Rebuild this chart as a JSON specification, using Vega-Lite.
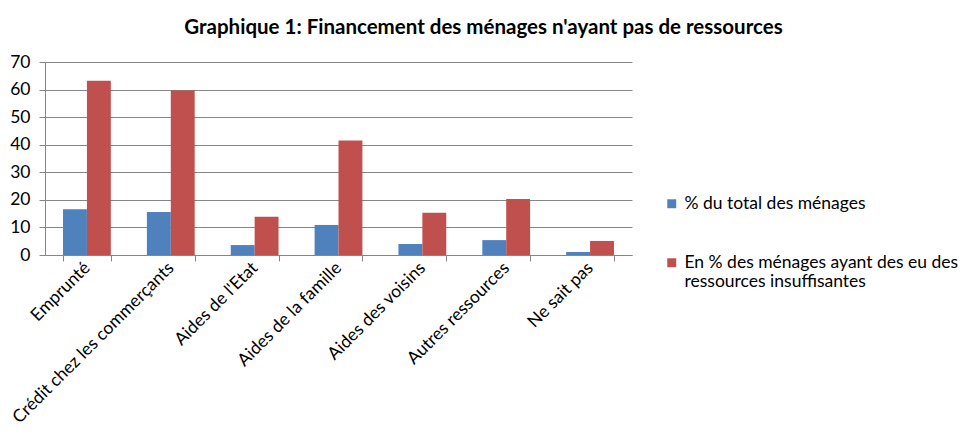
{
  "$schema": "https://vega.github.io/schema/vega-lite/v6.json",
  "autosize": "none",
  "width": 587,
  "height": 193,
  "padding": {"left": 45, "top": 62, "right": 332, "bottom": 191},
  "background": "white",
  "title": {
    "text": "Graphique 1: Financement des ménages n'ayant pas de ressources",
    "font": "Lato",
    "fontSize": 20.5,
    "fontWeight": "bold",
    "color": "#000000",
    "anchor": "middle",
    "dx": 145,
    "offset": 15
  },
  "data": {
    "values": [
      {"cat": "Emprunté", "serie": "% du total des ménages", "v": 16.6},
      {"cat": "Emprunté", "serie": "En % des ménages ayant des eu des ressources insuffisantes", "v": 63.2},
      {"cat": "Crédit chez les commerçants", "serie": "% du total des ménages", "v": 15.6},
      {"cat": "Crédit chez les commerçants", "serie": "En % des ménages ayant des eu des ressources insuffisantes", "v": 59.7},
      {"cat": "Aides de l'Etat", "serie": "% du total des ménages", "v": 3.6},
      {"cat": "Aides de l'Etat", "serie": "En % des ménages ayant des eu des ressources insuffisantes", "v": 13.9},
      {"cat": "Aides de la famille", "serie": "% du total des ménages", "v": 10.9},
      {"cat": "Aides de la famille", "serie": "En % des ménages ayant des eu des ressources insuffisantes", "v": 41.5},
      {"cat": "Aides des voisins", "serie": "% du total des ménages", "v": 4.0},
      {"cat": "Aides des voisins", "serie": "En % des ménages ayant des eu des ressources insuffisantes", "v": 15.3},
      {"cat": "Autres ressources", "serie": "% du total des ménages", "v": 5.4},
      {"cat": "Autres ressources", "serie": "En % des ménages ayant des eu des ressources insuffisantes", "v": 20.3},
      {"cat": "Ne sait pas", "serie": "% du total des ménages", "v": 1.1},
      {"cat": "Ne sait pas", "serie": "En % des ménages ayant des eu des ressources insuffisantes", "v": 5.1}
    ]
  },
  "mark": {"type": "bar"},
  "encoding": {
    "x": {
      "field": "cat",
      "type": "nominal",
      "sort": null,
      "scale": {"paddingInner": 0.43, "paddingOuter": 0.215},
      "axis": {
        "title": null,
        "labelAngle": -45,
        "labelAlign": "right",
        "labelBaseline": "middle",
        "labelFont": "Lato",
        "labelFontSize": 17.5,
        "labelColor": "#000000",
        "labelPadding": 4,
        "labelLimit": 300,
        "tickBand": "extent",
        "tickSize": 6,
        "tickColor": "#868686",
        "domainColor": "#868686"
      }
    },
    "xOffset": {"field": "serie", "type": "nominal", "scale": {"paddingInner": 0, "paddingOuter": 0}},
    "y": {
      "field": "v",
      "type": "quantitative",
      "scale": {"domain": [0, 70], "nice": false},
      "axis": {
        "title": null,
        "values": [0, 10, 20, 30, 40, 50, 60, 70],
        "labelFont": "Lato",
        "labelFontSize": 17.5,
        "labelColor": "#000000",
        "labelPadding": 9,
        "tickSize": 6,
        "tickColor": "#868686",
        "gridColor": "#868686",
        "domain": true,
        "domainColor": "#868686",
        "grid": true
      }
    },
    "color": {
      "field": "serie",
      "type": "nominal",
      "scale": {
        "domain": ["% du total des ménages", "En % des ménages ayant des eu des ressources insuffisantes"],
        "range": ["#4F81BD", "#C0504D"]
      },
      "legend": {
        "title": null,
        "orient": "none",
        "legendX": 618,
        "legendY": 133,
        "symbolType": "square",
        "symbolSize": 80,
        "symbolStrokeWidth": 0,
        "labelFont": "Lato",
        "labelFontSize": 17.5,
        "labelLineHeight": 23,
        "labelColor": "#000000",
        "labelLimit": 400,
        "rowPadding": 40,
        "labelExpr": "datum.label == '% du total des ménages' ? datum.label : ['En % des ménages ayant des eu des', 'ressources insuffisantes']"
      }
    }
  },
  "config": {"view": {"stroke": null}}
}
